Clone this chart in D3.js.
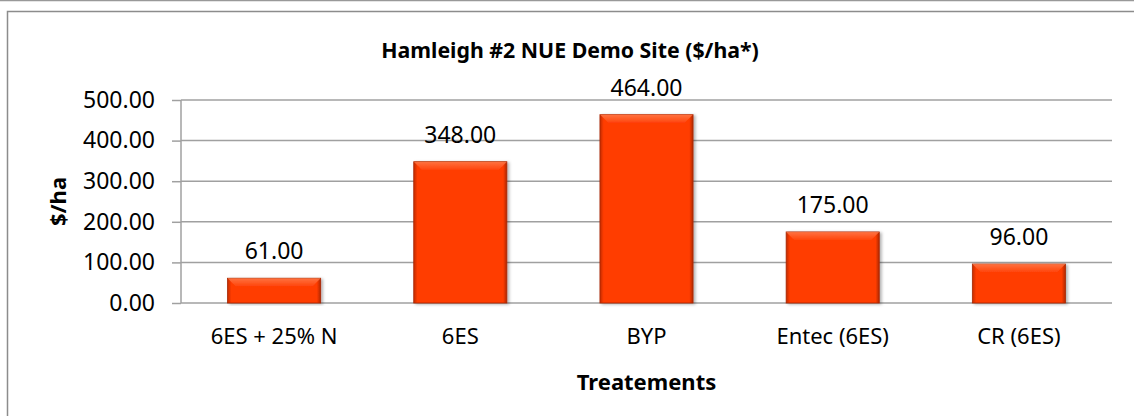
<!DOCTYPE html>
<html>
<head>
<meta charset="utf-8">
<script src="https://cdn.jsdelivr.net/npm/d3@7"></script>
<style>
  body { margin: 0; background: #fff; }
  svg { display: block; font-family: "Noto Sans", "Open Sans", sans-serif; }
</style>
</head>
<body>
<svg></svg>
<script>
// chart values
const categories = ["6ES + 25% N", "6ES", "BYP", "Entec (6ES)", "CR (6ES)"];
const values = [61, 348, 464, 175, 96];
const yTicks = [0, 100, 200, 300, 400, 500];

const width = 1134;
const height = 416;
const margin = { top: 100, right: 22, bottom: 113, left: 181 };

const svg = d3.select("svg")
    .attr("width", width)
    .attr("height", height);

// gradients for the bevelled bars
const defs = svg.append("defs");
const sideGrad = defs.append("linearGradient")
    .attr("id", "barSide")
    .attr("x1", 0).attr("x2", 1).attr("y1", 0).attr("y2", 0);
sideGrad.append("stop").attr("offset", "0%").attr("stop-color", "#c22c00");
sideGrad.append("stop").attr("offset", "4%").attr("stop-color", "#ff3c00");
sideGrad.append("stop").attr("offset", "96%").attr("stop-color", "#ff3c00");
sideGrad.append("stop").attr("offset", "100%").attr("stop-color", "#b02800");

const topGrad = defs.append("linearGradient")
    .attr("id", "barTop")
    .attr("x1", 0).attr("x2", 0).attr("y1", 0).attr("y2", 1);
topGrad.append("stop").attr("offset", "0%").attr("stop-color", "#ff8a5c");
topGrad.append("stop").attr("offset", "100%").attr("stop-color", "#ff4a14");

defs.append("filter").attr("id", "shadow")
    .append("feDropShadow")
    .attr("dx", 2).attr("dy", 1).attr("stdDeviation", 1.5)
    .attr("flood-color", "#000").attr("flood-opacity", 0.3);

// outer frame
svg.append("line")
    .attr("x1", 0).attr("x2", width)
    .attr("y1", 0.5).attr("y2", 0.5)
    .attr("stroke", "#999").attr("stroke-width", 1.5);
svg.append("rect")
    .attr("x", 7.5).attr("y", 11.5)
    .attr("width", width + 20).attr("height", height + 20)
    .attr("fill", "none")
    .attr("stroke", "#8c8c8c")
    .attr("stroke-width", 1.5);

// scales
const x = d3.scaleBand()
    .domain(categories)
    .range([margin.left, width - margin.right])
    .paddingInner(0.5)
    .paddingOuter(0.25);

const y = d3.scaleLinear()
    .domain([0, 500])
    .range([height - margin.bottom, margin.top]);

// gridlines
svg.append("g")
    .selectAll("line")
    .data(yTicks)
    .join("line")
    .attr("x1", margin.left)
    .attr("x2", width - margin.right)
    .attr("y1", d => y(d))
    .attr("y2", d => y(d))
    .attr("stroke", "#a0a0a0")
    .attr("stroke-width", 1.5);

// y axis
const yAxis = d3.axisLeft(y)
    .tickValues(yTicks)
    .tickFormat(d3.format(".2f"))
    .tickSize(9)
    .tickPadding(17);

const yg = svg.append("g")
    .attr("transform", `translate(${margin.left}, 0)`)
    .call(yAxis);
yg.selectAll("line, path").attr("stroke", "#a0a0a0").attr("stroke-width", 1.5);
yg.select(".domain").attr("d", `M0,${y(0)}V${y(500)}`);
yg.selectAll("text")
    .attr("font-size", 23)
    .attr("font-family", "Noto Sans")
    .attr("fill", "#000");

// x axis
const xAxis = d3.axisBottom(x).tickSize(0).tickPadding(25);
const xg = svg.append("g")
    .attr("transform", `translate(0, ${y(0)})`)
    .call(xAxis);
xg.select(".domain").remove();
xg.selectAll("text")
    .attr("font-size", 22)
    .attr("font-family", "Noto Sans")
    .attr("fill", "#000");

// bars
const bars = svg.append("g")
    .selectAll("g")
    .data(values)
    .join("g")
    .attr("filter", "url(#shadow)");

bars.append("rect")
    .attr("x", (d, i) => x(categories[i]))
    .attr("y", d => y(d))
    .attr("width", x.bandwidth())
    .attr("height", d => y(0) - y(d))
    .attr("fill", "url(#barSide)")
    .attr("stroke", "#a82600")
    .attr("stroke-width", 0.8);

// bevel highlight on top
bars.append("path")
    .attr("d", (d, i) => {
        const x0 = x(categories[i]);
        const x1 = x0 + x.bandwidth();
        const t = y(d);
        const b = Math.min(8, (y(0) - y(d)) / 3);
        return `M${x0},${t}L${x1},${t}L${x1 - b},${t + b}L${x0 + b},${t + b}Z`;
    })
    .attr("fill", "url(#barTop)")
    .attr("opacity", 0.7);

// value labels
svg.append("g")
    .selectAll("text")
    .data(values)
    .join("text")
    .attr("x", (d, i) => x(categories[i]) + x.bandwidth() / 2)
    .attr("y", d => y(d) - 19)
    .attr("text-anchor", "middle")
    .attr("font-size", 23)
    .text(d => d3.format(".2f")(d));

// titles
svg.append("text")
    .attr("x", 570)
    .attr("y", 58)
    .attr("text-anchor", "middle")
    .attr("font-size", 21.3)
    .attr("font-weight", "bold")
    .text("Hamleigh #2 NUE Demo Site ($/ha*)");

svg.append("text")
    .attr("x", (margin.left + width - margin.right) / 2)
    .attr("y", 390)
    .attr("text-anchor", "middle")
    .attr("font-size", 22)
    .attr("font-weight", "bold")
    .text("Treatements");

svg.append("text")
    .attr("transform", `translate(66, ${y(250)}) rotate(-90)`)
    .attr("text-anchor", "middle")
    .attr("font-size", 22)
    .attr("font-weight", "bold")
    .text("$/ha");
</script>
</body>
</html>
